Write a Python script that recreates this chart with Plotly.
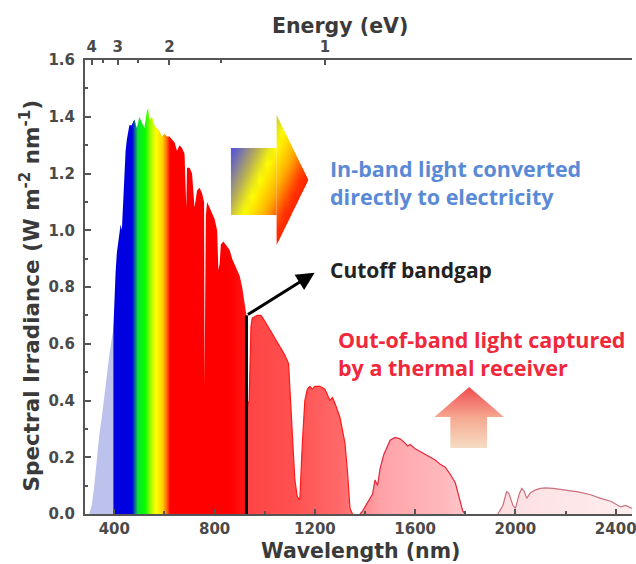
import plotly.graph_objects as go

# ---- spectrum data ----
wavelength = [300, 310, 320, 330, 340, 350, 360, 370, 380, 390, 396,
              400, 405, 410, 415, 420, 425, 430, 435, 440, 445, 450, 455, 460, 470, 480, 490,
              500, 510, 520, 530, 535, 540, 550, 560, 570, 580, 590, 600, 610, 620, 630,
              640, 650, 660, 670, 680, 687, 690, 700, 710, 720, 730, 740, 750, 758, 760,
              762, 765, 770, 780, 790, 800, 810, 815, 820, 825, 835, 850, 860, 870, 880,
              890, 900, 910, 920, 927,
              932, 938, 945, 950, 970, 985, 1000, 1020, 1040, 1060, 1080, 1095, 1100,
              1110, 1120, 1130, 1140, 1150, 1160, 1170, 1180, 1190, 1200, 1220, 1240,
              1250, 1260, 1270, 1280, 1300, 1310, 1320, 1330, 1340, 1350, 1380, 1390,
              1410, 1430, 1440, 1450, 1460, 1475, 1490, 1500, 1520, 1540, 1560, 1570,
              1580, 1600, 1620, 1640, 1660, 1680, 1700, 1720, 1740, 1760, 1775, 1790,
              1800, 1930, 1950, 1965, 1975, 1990, 2000, 2015, 2025, 2035, 2045, 2060,
              2080, 2100, 2120, 2150, 2200, 2250, 2300, 2340, 2380, 2410, 2420, 2440, 2465]
irradiance = [0.0, 0.03, 0.10, 0.20, 0.28, 0.34, 0.42, 0.50, 0.56, 0.62, 0.65,
              0.78, 0.85, 0.92, 0.95, 0.98, 1.02, 1.00, 1.10, 1.20, 1.28, 1.32, 1.34, 1.37, 1.37, 1.39, 1.36,
              1.40, 1.38, 1.36, 1.42, 1.43, 1.39, 1.40, 1.37, 1.36, 1.35, 1.33, 1.34, 1.33, 1.33, 1.32,
              1.31, 1.28, 1.30, 1.29, 1.27, 1.08, 1.22, 1.22, 1.20, 1.08, 1.14, 1.15, 1.13, 1.10, 0.45,
              0.70, 1.05, 1.10, 1.08, 1.06, 1.04, 1.00, 0.86, 0.88, 0.95, 0.96, 0.94, 0.93, 0.90, 0.88,
              0.86, 0.84, 0.80, 0.74, 0.70,
              0.38, 0.40, 0.66, 0.69, 0.70, 0.70, 0.68, 0.65, 0.62, 0.59, 0.56, 0.53, 0.45,
              0.25, 0.12, 0.06, 0.05, 0.25, 0.40, 0.44, 0.45, 0.44, 0.45, 0.45, 0.44,
              0.42, 0.40, 0.41, 0.39, 0.34, 0.30, 0.25, 0.15, 0.02, 0.0, 0.0, 0.01,
              0.04, 0.07, 0.12, 0.10, 0.16, 0.21, 0.24, 0.26, 0.27, 0.265, 0.25, 0.24,
              0.245, 0.23, 0.22, 0.21, 0.20, 0.19, 0.175, 0.165, 0.14, 0.11, 0.06, 0.01,
              0.0, 0.0, 0.03, 0.08, 0.07, 0.03, 0.02, 0.07, 0.09, 0.08, 0.055, 0.075,
              0.085, 0.09, 0.092, 0.09, 0.085, 0.078, 0.068, 0.055, 0.045, 0.03, 0.025, 0.03, 0.02]

cutoff_nm = 927
cutoff_top = 0.70
uv_edge_nm = 396
blue_end_nm = 470
x_range = [283, 2465]
y_range = [0, 1.6]
energy_ticks = [4, 3, 2, 1]
energy_minor = [3.5, 2.5, 1.5]
wl_ticks = [400, 800, 1200, 1600, 2000, 2400]

AXFONT = "DejaVu Sans"
TXT = "Open Sans"

# plot-area geometry (pixels) used for decorations only
L, R, T, B = 85, 636, 60, 514


def px_to_wl(px):
    return x_range[0] + (px - L) * (x_range[1] - x_range[0]) / (R - L)


def py_to_v(py):
    return (B - py) * (y_range[1] - y_range[0]) / (B - T)


def hex2rgb(h):
    h = h.lstrip("#")
    return [int(h[i:i + 2], 16) for i in (0, 2, 4)]


def interp_color(scale, t):
    t = min(max(t, 0), 1)
    for (p0, c0), (p1, c1) in zip(scale[:-1], scale[1:]):
        if p0 <= t <= p1:
            f = 0 if p1 == p0 else (t - p0) / (p1 - p0)
            a, b = hex2rgb(c0), hex2rgb(c1)
            r = [round(a[i] + (b[i] - a[i]) * f) for i in range(3)]
            return "rgb(%d,%d,%d)" % tuple(r)
    return scale[-1][1]


def seg(lo, hi):
    xs, ys = [], []
    for w, v in zip(wavelength, irradiance):
        if lo <= w <= hi:
            xs.append(w)
            ys.append(v)
    return xs, ys


fig = go.Figure()

# UV part
ux, uy = seg(0, uv_edge_nm)
fig.add_trace(go.Scatter(x=ux, y=uy, mode="lines", fill="tozeroy",
                         fillcolor="#bcc2ec", line=dict(width=0), hoverinfo="skip"))

# blue part (solid)
bxs, bys = seg(uv_edge_nm, blue_end_nm + 10)
fig.add_trace(go.Scatter(x=bxs, y=bys, mode="lines", fill="tozeroy",
                         fillcolor="#0000e0", line=dict(width=0), hoverinfo="skip"))

# rest of in-band rainbow part
ix, iy = seg(blue_end_nm, cutoff_nm)
span = cutoff_nm - blue_end_nm
stops = [(470, "#0000e6"), (492, "#10e030"), (520, "#00ff00"),
         (545, "#b0ff00"), (565, "#ffff00"), (590, "#ffd000"), (606, "#ff7000"),
         (620, "#ff0000"), (860, "#ff0000"), (927, "#ff1a1a")]
cs = [[(w - blue_end_nm) / span, c] for w, c in stops]
fig.add_trace(go.Scatter(x=ix, y=iy, mode="lines", fill="tozeroy",
                         fillgradient=dict(type="horizontal", colorscale=cs,
                                           start=blue_end_nm, stop=cutoff_nm),
                         line=dict(width=0), hoverinfo="skip"))

# out-of-band part
ox, oy = seg(cutoff_nm, 2500)
ospan = x_range[1] - cutoff_nm
ostops = [(927, "#ff4444"), (1100, "#ff5050"), (1300, "#ff6a6a"), (1450, "#ffa2a8"),
          (1700, "#ffb8bc"), (1950, "#fde0e2"), (2465, "#fdeeee")]
ocs = [[(w - cutoff_nm) / ospan, c] for w, c in ostops]
fig.add_trace(go.Scatter(x=ox, y=oy, mode="lines", fill="tozeroy",
                         fillgradient=dict(type="horizontal", colorscale=ocs,
                                           start=cutoff_nm, stop=x_range[1]),
                         line=dict(width=0), hoverinfo="skip"))
for lo, hi, col in [(932, 1350, "#ff1a1a"), (1380, 1800, "#e0283a"), (1930, 2465, "#c87080")]:
    sx, sy = seg(lo, hi)
    fig.add_trace(go.Scatter(x=sx, y=sy, mode="lines", line=dict(width=1.2, color=col),
                             hoverinfo="skip"))

# cutoff line
fig.add_trace(go.Scatter(x=[cutoff_nm, cutoff_nm], y=[0, cutoff_top], mode="lines",
                         line=dict(color="black", width=3), hoverinfo="skip"))

# ---- diagonal-gradient right arrow, built from thin vertical strips ----
bx0, hx, tipx = 232, 278, 310
body_top, body_bot = 148, 215
head_top, head_bot, tip_y = 115, 245, 180
arrow_scale = [(0, "#3434ff"), (0.14, "#5a5ad0"), (0.3, "#b4aa58"), (0.43, "#ffff00"),
               (0.58, "#ffb000"), (0.72, "#ff3000"), (1, "#ff0000")]


def a_top(x):
    return head_top + (x - hx) * (tip_y - head_top) / (tipx - hx)


def a_bot(x):
    return head_bot - (x - hx) * (head_bot - tip_y) / (tipx - hx)


gx, gy = 85.0, 40.0
norm = gx * (tipx - bx0) + gy * (head_bot - head_top)
body_edges = [bx0 + 2 * i for i in range(24)]          # 232 .. 278
head_edges = [hx + 2 * i for i in range(17)]            # 278 .. 310
strips = []
for x0, x1 in zip(body_edges[:-1], body_edges[1:]):
    xe = min(x1 + 0.7, hx)
    strips.append(([x0, xe, xe, x0, x0], [body_bot, body_bot, body_top, body_top, body_bot], x0, x1))
for x0, x1 in zip(head_edges[:-1], head_edges[1:]):
    xe = min(x1 + 0.7, tipx)
    strips.append(([x0, xe, xe, x0, x0], [a_bot(x0), a_bot(xe), a_top(xe), a_top(x0), a_bot(x0)], x0, x1))
for xs_px, ys_px, x0, x1 in strips:
    xc = 0.5 * (x0 + x1)
    sc = []
    for k in range(9):
        p = k / 8
        ypx = head_bot - p * (head_bot - head_top)
        t = (gx * (xc - bx0) + gy * (ypx - head_top)) / norm
        sc.append([p, interp_color(arrow_scale, t)])
    fig.add_trace(go.Scatter(x=[px_to_wl(v) for v in xs_px], y=[py_to_v(v) for v in ys_px],
                             mode="lines", fill="toself",
                             fillgradient=dict(type="vertical", colorscale=sc,
                                               start=py_to_v(head_bot), stop=py_to_v(head_top)),
                             line=dict(width=0), hoverinfo="skip"))

# gradient up arrow (out-of-band)
up_px = [(453, 448), (490, 448), (490, 417), (507, 417), (472, 387), (437, 417), (453, 417), (453, 448)]
fig.add_trace(go.Scatter(x=[px_to_wl(p[0]) for p in up_px], y=[py_to_v(p[1]) for p in up_px],
                         mode="lines", fill="toself",
                         fillgradient=dict(type="vertical",
                                           colorscale=[[0, "#f6dcc4"], [0.5, "#f6a890"],
                                                       [1, "#f04c50"]],
                                           start=py_to_v(448), stop=py_to_v(387)),
                         line=dict(width=0), hoverinfo="skip"))

# invisible trace to hold top axis
fig.add_trace(go.Scatter(x=x_range, y=[0, 0], xaxis="x2", mode="markers",
                         marker=dict(opacity=0), hoverinfo="skip"))

axis_common = dict(showline=True, linecolor="#555", linewidth=2, showgrid=False,
                   zeroline=False, ticks="inside", tickcolor="#555", tickwidth=1.5,
                   ticklabeloverflow="allow",
                   tickfont=dict(family=AXFONT, size=15, color="#4a4a4a", weight="bold"))

fig.update_layout(
    width=636, height=564, margin=dict(l=L, r=636 - R, t=T, b=564 - B),
    paper_bgcolor="white", plot_bgcolor="white", showlegend=False,
    xaxis=dict(range=x_range, tickvals=wl_ticks, ticklen=5,
               minor=dict(tickvals=[600, 1000, 1400, 1800, 2200], ticklen=3, ticks="inside",
                          tickcolor="#555"),
               **axis_common),
    xaxis2=dict(range=x_range, overlaying="x", side="top", anchor="y",
                tickvals=[1240 / e for e in energy_ticks],
                ticktext=[str(e) for e in energy_ticks], ticklen=5,
                minor=dict(tickvals=[1240 / e for e in energy_minor], ticklen=3,
                           ticks="inside", tickcolor="#555"),
                **axis_common),
    yaxis=dict(range=y_range, dtick=0.2, tickformat=".1f", ticklen=6,
               ticklabelstandoff=5,
               minor=dict(dtick=0.1, ticklen=3, ticks="inside", tickcolor="#555"),
               **axis_common),
)


def px_paper_x(px):
    return (px - L) / (R - L)


def px_paper_y(py):
    return (B - py) / (B - T)


for text, cx, cy in [("Energy (eV)", 342, 26), ("Wavelength (nm)", 363, 551)]:
    fig.add_annotation(text=text, xref="paper", yref="paper", x=px_paper_x(cx), y=px_paper_y(cy),
                       showarrow=False, xanchor="center", yanchor="middle",
                       font=dict(family=AXFONT, size=20.5, color="#3a3a3a", weight="bold"))
fig.add_annotation(text="Spectral Irradiance (W m<sup>-2</sup> nm<sup>-1</sup>)",
                   xref="paper", yref="paper", x=px_paper_x(30), y=px_paper_y(296), textangle=-90,
                   showarrow=False, xanchor="center", yanchor="middle",
                   font=dict(family=AXFONT, size=21.5, color="#3a3a3a", weight="bold"))

# cutoff arrow
fig.add_annotation(x=1199, y=0.85, ax=cutoff_nm, ay=cutoff_top, xref="x", yref="y",
                   axref="x", ayref="y", showarrow=True, arrowhead=2, arrowsize=1.2,
                   arrowwidth=3, arrowcolor="black", text="")

fig.add_annotation(text="In-band light converted<br>directly to electricity",
                   xref="paper", yref="paper", x=px_paper_x(330), y=px_paper_y(182.5),
                   xanchor="left", yanchor="middle", align="left", showarrow=False,
                   font=dict(family=TXT, size=21.5, color="#5a8ad6", weight="bold"))
fig.add_annotation(text="Cutoff bandgap",
                   xref="paper", yref="paper", x=px_paper_x(330), y=px_paper_y(270),
                   xanchor="left", yanchor="middle", align="left", showarrow=False,
                   font=dict(family=TXT, size=21, color="#222", weight="bold"))
fig.add_annotation(text="Out-of-band light captured<br>by a thermal receiver",
                   xref="paper", yref="paper", x=px_paper_x(338), y=px_paper_y(354),
                   xanchor="left", yanchor="middle", align="left", showarrow=False,
                   font=dict(family=TXT, size=21.5, color="#f0283c", weight="bold"))

fig.write_html("out.html")
